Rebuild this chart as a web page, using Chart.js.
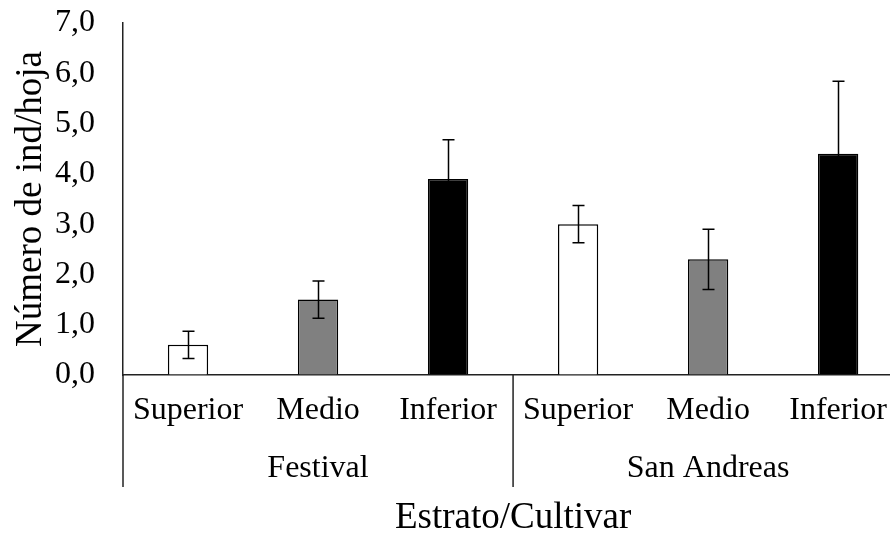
<!DOCTYPE html>
<html lang="es">

<head>
    <meta charset="UTF-8">
    <title>Número de ind/hoja</title>
    <style>
        body {
            margin: 0;
            background: #fff;
            overflow: hidden;
        }

        canvas {
            display: block;
        }
    </style>
</head>

<body>
    <canvas id="grafico" width="907" height="545"></canvas>

    <script src="https://cdn.jsdelivr.net/npm/chart.js"></script>
    <script>
        // estratos (por categoría) y cultivares (por grupo de tres)
        const estratos = ["Superior", "Medio", "Inferior", "Superior", "Medio", "Inferior"];
        const cultivares = ["Festival", "San Andreas"];

        // media de individuos por hoja y su error estándar
        const medias = [0.6, 1.5, 3.9, 3.0, 2.3, 4.4];
        const errores = [0.27, 0.37, 0.78, 0.37, 0.6, 1.44];

        const rellenos = ["#ffffff", "#808080", "#000000", "#ffffff", "#808080", "#000000"];

        const fuente = "'Liberation Serif', 'Times New Roman', serif";
        const tinta = "#222";

        // barras de error
        const barrasError = {
            id: "barrasError",
            afterDatasetsDraw(chart) {
                const ctx = chart.ctx;
                const y = chart.scales.y;
                const meta = chart.getDatasetMeta(0);
                ctx.save();
                ctx.strokeStyle = "#000";
                ctx.lineWidth = 1.5;
                meta.data.forEach((barra, i) => {
                    const arriba = y.getPixelForValue(medias[i] + errores[i]);
                    const abajo = y.getPixelForValue(medias[i] - errores[i]);
                    const cx = Math.round(barra.x) + 0.5;
                    ctx.beginPath();
                    ctx.moveTo(cx, arriba);
                    ctx.lineTo(cx, abajo);
                    ctx.moveTo(cx - 6, arriba);
                    ctx.lineTo(cx + 6, arriba);
                    ctx.moveTo(cx - 6, abajo);
                    ctx.lineTo(cx + 6, abajo);
                    ctx.stroke();
                });
                ctx.restore();
            }
        };

        // líneas que separan los cultivares bajo el eje
        const separadores = {
            id: "separadores",
            afterDraw(chart) {
                const ctx = chart.ctx;
                const x = chart.scales.x;
                const x2 = chart.scales.x2;
                const paso = (x.right - x.left) / estratos.length;
                ctx.save();
                ctx.strokeStyle = tinta;
                ctx.lineWidth = 1.5;
                for (let i = 0; i <= estratos.length; i += 3) {
                    const px = x.left + i * paso;
                    ctx.beginPath();
                    ctx.moveTo(px, x.top);
                    ctx.lineTo(px, x2.top + 59);
                    ctx.stroke();
                }
                ctx.restore();
            }
        };

        new Chart(document.getElementById("grafico"), {
            type: "bar",
            data: {
                labels: estratos,
                datasets: [{
                    data: medias,
                    backgroundColor: rellenos,
                    borderColor: "#000",
                    borderWidth: 1.5,
                    borderSkipped: "bottom",
                    barPercentage: 0.31,
                    categoryPercentage: 1
                }]
            },
            options: {
                responsive: false,
                devicePixelRatio: 1,
                animation: false,
                layout: { padding: { top: 23, right: 0, bottom: 0, left: 0 } },
                plugins: {
                    legend: { display: false },
                    tooltip: { enabled: false }
                },
                scales: {
                    x: {
                        type: "category",
                        weight: 0,
                        offset: true,
                        grid: { display: false, drawTicks: false },
                        border: { display: true, color: tinta, width: 1.5 },
                        ticks: {
                            color: "#000",
                            padding: 20,
                            maxRotation: 0,
                            autoSkip: false,
                            font: { family: fuente, size: 32, lineHeight: 1 }
                        },
                        afterFit: scale => { scale.height = 53; }
                    },
                    x2: {
                        type: "category",
                        position: "bottom",
                        weight: 1,
                        labels: cultivares,
                        offset: true,
                        grid: { display: false, drawTicks: false },
                        border: { display: false },
                        ticks: {
                            color: "#000",
                            padding: 25,
                            maxRotation: 0,
                            font: { family: fuente, size: 32, lineHeight: 1 }
                        },
                        title: {
                            display: true,
                            text: "Estrato/Cultivar",
                            color: "#000",
                            padding: { top: 0, bottom: 8 },
                            font: { family: fuente, size: 37, lineHeight: 1 }
                        },
                        afterFit: scale => { scale.height = 117; }
                    },
                    y: {
                        min: 0,
                        max: 7,
                        // marcas invisibles para separar las etiquetas del eje
                        grid: {
                            display: true,
                            drawOnChartArea: false,
                            drawTicks: true,
                            tickLength: 28,
                            tickColor: "rgba(0,0,0,0)"
                        },
                        border: { display: true, color: tinta, width: 1.5 },
                        ticks: {
                            stepSize: 1,
                            color: "#000",
                            padding: 0,
                            font: { family: fuente, size: 32, lineHeight: 1 },
                            callback: v => v.toFixed(1).replace(".", ",")
                        },
                        title: {
                            display: true,
                            text: "Número de ind/hoja",
                            color: "#000",
                            padding: { top: 13, bottom: 0 },
                            font: { family: fuente, size: 37, lineHeight: 1 }
                        },
                        afterFit: scale => { scale.width = 123; }
                    }
                }
            },
            plugins: [barrasError, separadores]
        });
    </script>
</body>

</html>
